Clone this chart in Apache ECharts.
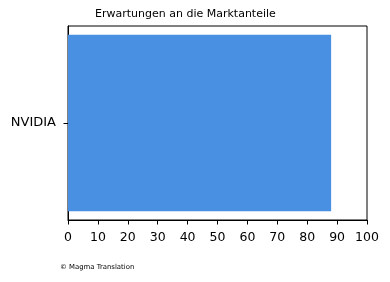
<!DOCTYPE html>
<html><head><meta charset="utf-8">
<script src="https://cdn.jsdelivr.net/npm/echarts@6/dist/echarts.min.js"></script>
<style>html,body{margin:0;padding:0;background:#fff}#c{width:390px;height:282px}</style>
</head><body><div id="c"></div>
<script>
const categories = ['NVIDIA'];
const values = [88];
const xTicks = [0, 10, 20, 30, 40, 50, 60, 70, 80, 90, 100];
const titleText = 'Erwartungen an die Marktanteile';
const footerText = '© Magma Translation';

const chart = echarts.init(document.getElementById('c'), null, {renderer: 'canvas'});
chart.setOption({
  animation: false,
  backgroundColor: '#ffffff',
  title: [
    {text: titleText, left: 95, top: 9, padding: 0, textStyle: {fontFamily: 'DejaVu Sans', fontSize: 11, fontWeight: 'normal', color: '#000'}},
    {text: footerText, left: 60, top: 264, padding: 0, textStyle: {fontFamily: 'DejaVu Sans', fontSize: 6.9, fontWeight: 'normal', color: '#000'}}
  ],
  grid: {left: 68, right: 23, top: 26, bottom: 62, show: true, borderColor: '#000', borderWidth: 1, backgroundColor: 'transparent'},
  xAxis: {
    type: 'value', min: xTicks[0], max: xTicks[xTicks.length - 1], interval: 10,
    axisLine: {show: true, lineStyle: {color: '#000', width: 1}},
    axisTick: {show: true, length: 4.5, lineStyle: {color: '#000'}},
    axisLabel: {fontFamily: 'DejaVu Sans', fontSize: 12.5, color: '#000', margin: 11},
    splitLine: {show: false}
  },
  yAxis: {
    type: 'category', data: categories,
    axisLine: {show: true, lineStyle: {color: '#000', width: 1}},
    axisTick: {show: true, length: 4.5, alignWithLabel: true, lineStyle: {color: '#000'}},
    axisLabel: {fontFamily: 'DejaVu Sans', fontSize: 13, color: '#000', margin: 12, padding: [6, 0, 0, 0]}
  },
  series: [{
    type: 'bar', data: values, barWidth: '91%',
    itemStyle: {color: '#4a90e2'}
  }]
});
</script></body></html>
